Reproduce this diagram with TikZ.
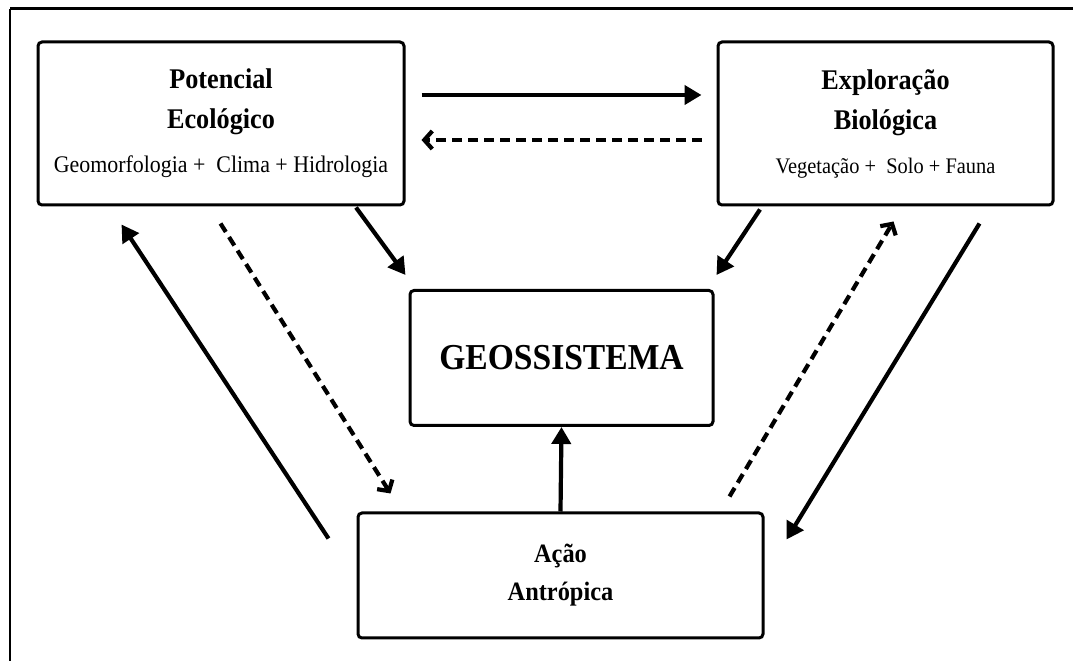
\documentclass[tikz,border=0pt]{standalone}
\usepackage{fontspec}
\setmainfont{Liberation Serif}[FakeStretch=0.92]
\usetikzlibrary{arrows.meta,calc}
\tikzstyle{box} = [rectangle, rounded corners=4pt, draw=black, line width=3pt, align=center, inner sep=0pt]
\tikzstyle{arrow} = [line width=4.2pt, -{Triangle[length=17pt,width=19pt]}]
\tikzstyle{dasharrow} = [line width=4.2pt, dash pattern=on 10pt off 6pt, -{Straight Barb[length=8pt,width=18pt]}]
\tikzstyle{titulo} = [font=\fontsize{28.5}{40}\selectfont\bfseries]
\tikzstyle{titacao} = [font=\fontsize{26.5}{38}\selectfont\bfseries]

\begin{document}
\begin{tikzpicture}[x=1pt,y=1pt]
\useasboundingbox (0,0) rectangle (1073,661);

% MOLDURA
\draw[line width=3pt] (10,652) -- (1073,652);
\draw[line width=2pt] (10,652) -- (10,0);

% CAIXAS
\node (pot) [box, titulo, minimum width=366, minimum height=163] at (221,537.5) {Potencial\\Ecológico\\[4pt]\fontsize{23.8}{26}\mdseries Geomorfologia +~ Clima + Hidrologia};
\node (expl) [box, titulo, minimum width=335, minimum height=163] at (885.5,537.5) {Exploração\\Biológica\\[4pt]\fontsize{22.2}{24}\mdseries Vegetação +~ Solo + Fauna};
\node (geo) [box, font=\fontsize{36.5}{40}\selectfont\bfseries, minimum width=303, minimum height=135] at (561.5,303) {GEOSSISTEMA};
\node (acao) [box, titacao, minimum width=405, minimum height=125] at (560.5,85.5) {Ação\\Antrópica};

% SETAS - entre potencial e exploracao
\draw [arrow] ($(pot.east)+(16,28.5)$) -- ($(expl.west)+(-15,28.5)$);
\draw [dasharrow] ($(expl.west)+(-15,-16.5)$) -- ($(pot.east)+(16,-16.5)$);

% SETAS - para o geossistema
\draw [arrow] ($(pot.south)+(135,-1)$) -- ($(geo.north west)+(-3,14)$);
\draw [arrow] ($(expl.south)+(-125.5,-3)$) -- ($(geo.north east)+(2,14)$);
\draw [arrow] (acao.north) -- (geo.south);

% SETAS - acao antropica
\draw [arrow] ($(acao.north west)+(-28,-27)$) -- ($(pot.south west)+(85,-18)$);
\draw [dasharrow] ($(pot.south west)+(184,-17)$) -- ($(acao.north west)+(34,18)$);
\draw [dasharrow] ($(acao.north east)+(-35,15)$) -- ($(expl.south west)+(177,-15)$);
\draw [arrow] ($(expl.south east)+(-75,-17)$) -- ($(acao.north east)+(22,-28)$);

\end{tikzpicture}
\end{document}
